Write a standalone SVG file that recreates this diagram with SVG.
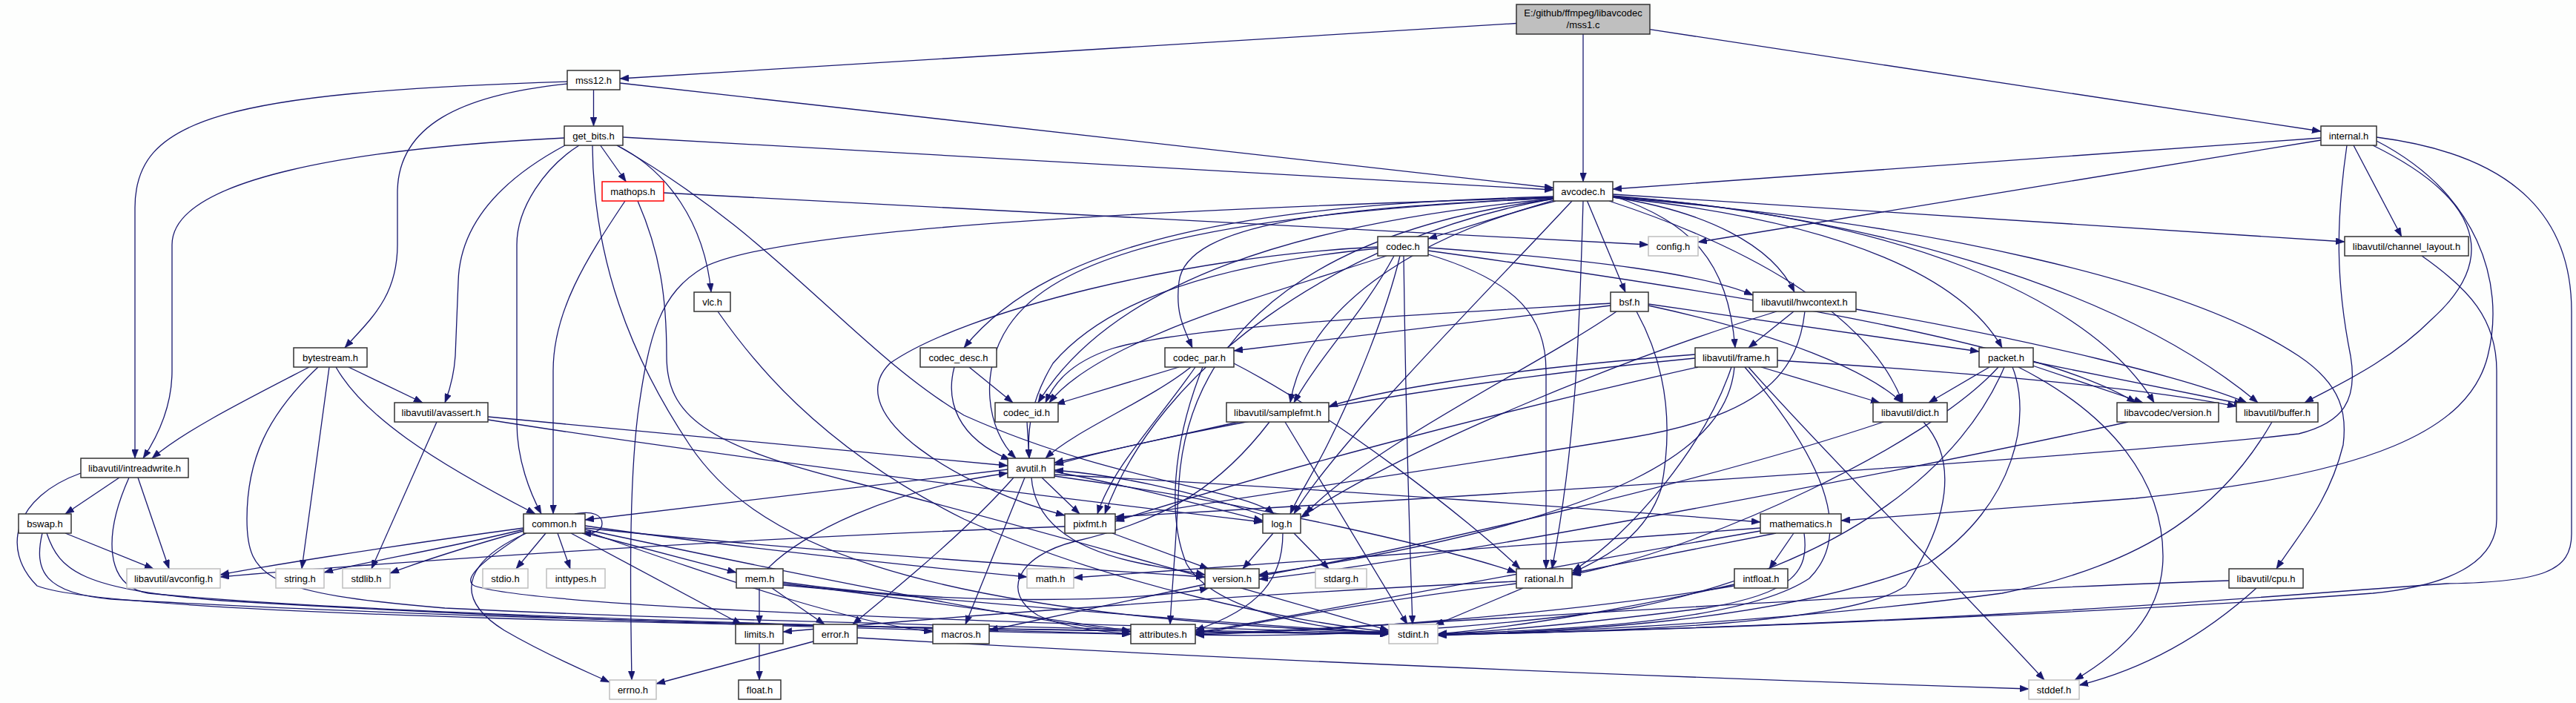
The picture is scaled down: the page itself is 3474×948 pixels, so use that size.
<svg xmlns="http://www.w3.org/2000/svg" width="3474" height="948" viewBox="0 0 3474 948">
<defs>
<marker id="ah" viewBox="0 0 12 9" refX="12" refY="4.5" markerWidth="12" markerHeight="9" markerUnits="userSpaceOnUse" orient="auto"><path d="M0,0 L12,4.5 L0,9 z" fill="#191970" stroke="#191970" stroke-width="0.5"/></marker>
<style>
.e path{fill:none;stroke:#191970;stroke-width:1.3;marker-end:url(#ah)}
.n rect{fill:#ffffff;stroke:#333333;stroke-width:1.5}
.x rect{fill:#ffffff;stroke:#bfbfbf;stroke-width:1.5}
.r rect{fill:#ffffff;stroke:#ff0000;stroke-width:1.5}
.root rect{fill:#bfbfbf;stroke:#333333;stroke-width:1.5}
text{font-family:"Liberation Sans",Arial,sans-serif;font-size:13px;text-anchor:middle;fill:#000000}
</style>
</defs>
<rect x="0" y="0" width="3474" height="948" fill="#fdfefd"/>
<g id="edges" class="e">
<path d="M2045,31.5 L836,106"/>
<path d="M2135,46 L2135,245"/>
<path d="M2225,39.7 L3130,177"/>
<path d="M800.5,121 L800.5,170"/>
<path d="M836,112 L2095,253.5"/>
<path d="M765,110 C300,125 182,160 182,280 L182,618"/>
<path d="M765,113 C620,128 536,170 536,260 L536,330 C536,400 500,430 465,469"/>
<path d="M761,186 C480,200 232,240 232,330 L232,500 C232,545 215,585 193,618"/>
<path d="M840,185 L2095,256"/>
<path d="M809.7,196 L844.3,245"/>
<path d="M832,196 C900,230 950,300 959,394"/>
<path d="M781,196 C735,225 697,280 697,330 L697,570 C697,620 715,665 730,693"/>
<path d="M762,196 C680,240 620,300 618,380 L614,480 C612,510 605,530 600,543"/>
<path d="M799,196 C800,350 850,480 930,600 C1010,720 1200,830 1873,853"/>
<path d="M832,196 C1050,320 1150,470 1300,560 C1500,650 1680,660 1718,693"/>
<path d="M3130,186 L2175,255"/>
<path d="M3130,189 L2290,326.5"/>
<path d="M3174,196 L3238.7,319"/>
<path d="M3165,196 C3150,300 3150,380 3170,480 C3180,540 3160,570 3100,585 C2800,620 1800,680 1504,697"/>
<path d="M3200,196 C3330,260 3380,340 3280,430 C3220,490 3150,520 3108,543"/>
<path d="M3205,190 C3340,260 3380,380 3355,480 C3330,580 3200,640 2880,672 L2483,702"/>
<path d="M3205,185 C3400,210 3468,300 3468,420 L3468,720 C3468,770 3430,785 3300,787 C3100,800 2700,840 1939,856"/>
<path d="M2095,270 L1926,322"/>
<path d="M2140.5,271 L2192,394"/>
<path d="M2095,266 C1500,285 1050,310 950,360 C890,395 875,450 860,560 C848,660 850,800 852,917"/>
<path d="M2098,271 C1900,320 1760,420 1740,543"/>
<path d="M2097,268 C1700,320 1600,500 1590,650 C1585,750 1580,800 1578,842"/>
<path d="M2095,267 C1600,290 1420,350 1360,440 C1320,500 1330,580 1370,618"/>
<path d="M2175,264 C2500,290 2850,380 3045,543"/>
<path d="M2175,266 C2600,300 2950,380 3100,480 C3160,520 3165,560 3160,600 C3140,680 3100,720 3070,767"/>
<path d="M2175,262 L3162,326"/>
<path d="M2170,271 C2350,330 2520,420 2566,543"/>
<path d="M2175,264 C2280,300 2330,350 2340,469"/>
<path d="M2175,266 C2300,285 2390,330 2420,394"/>
<path d="M2120,271 C2000,400 1800,600 1745,693"/>
<path d="M2095,268 C1800,320 1560,500 1490,693"/>
<path d="M2135,271 C2130,450 2125,600 2093,767"/>
<path d="M2095,265 C1700,275 1420,320 1300,469"/>
<path d="M2095,267 C1800,280 1600,300 1590,380 C1585,420 1595,440 1608,469"/>
<path d="M2095,268 C1750,300 1500,380 1400,543"/>
<path d="M2175,266 C2500,300 2650,380 2700,469"/>
<path d="M2175,265 C2550,290 2820,400 2905,543"/>
<path d="M895,260 L2223,330"/>
<path d="M843,271 C790,350 746,420 746,500 L746,693"/>
<path d="M860,271 C890,340 899,400 899,480 C899,560 950,600 1150,650 C1500,740 1800,830 1873,850"/>
<path d="M968,420 C1010,480 1100,600 1300,700 C1500,790 1750,840 1873,852"/>
<path d="M1893,345 C1895,500 1900,700 1905,842"/>
<path d="M1926,334 C2150,350 2300,370 2364,398"/>
<path d="M1926,338 C2300,390 2750,460 2880,543"/>
<path d="M1888,345 C1870,420 1830,520 1790,600 C1770,640 1750,670 1740,693"/>
<path d="M1858,333 C1600,345 1300,420 1200,490 C1130,560 1300,660 1436,695"/>
<path d="M1858,335 C1600,360 1480,420 1420,490 C1390,540 1385,580 1388,618"/>
<path d="M1926,343 C2050,380 2085,430 2085,500 L2085,767"/>
<path d="M1880,345 C1840,420 1780,480 1745,543"/>
<path d="M1870,345 C1700,400 1480,460 1415,543"/>
<path d="M2172,412 L1664,473"/>
<path d="M2172,409 C1900,425 1600,440 1500,470 C1440,490 1420,520 1410,543"/>
<path d="M2223,412 C2400,450 2520,500 2565,543"/>
<path d="M2223,410 L2669,474"/>
<path d="M2180,420 C2080,490 1850,600 1760,693"/>
<path d="M2207,420 C2240,480 2260,560 2240,660 C2220,720 2170,750 2121,772"/>
<path d="M2419,420 L2358,469"/>
<path d="M2503,417 C2750,460 2950,510 3030,543"/>
<path d="M2396,420 C2200,480 1900,600 1754,698"/>
<path d="M2434,420 C2425,500 2380,560 2200,590 C1900,640 1600,680 1504,700"/>
<path d="M417,495 C330,540 250,580 205,618"/>
<path d="M444,495 L407,767"/>
<path d="M470,495 L570,543"/>
<path d="M453,495 C490,560 580,620 722,693"/>
<path d="M429,495 C360,560 333,620 333,700 C333,780 360,800 600,820 C1000,840 1600,850 1873,855"/>
<path d="M1307,495 L1366,543"/>
<path d="M1287,495 C1275,540 1290,590 1362,620"/>
<path d="M1590,495 L1424,545"/>
<path d="M1606,495 C1550,540 1450,580 1410,618"/>
<path d="M1612,495 C1560,570 1500,630 1480,693"/>
<path d="M1622,495 C1580,600 1575,700 1600,760 C1640,830 1800,850 1873,854"/>
<path d="M1664,490 C1800,560 1980,700 2050,767"/>
<path d="M2375,495 L2535,543"/>
<path d="M2397,486 C2700,505 2900,525 3016,548"/>
<path d="M2358,495 C2450,600 2650,800 2757,917"/>
<path d="M2335,495 C2300,600 2200,720 2121,770"/>
<path d="M2353,495 C2460,620 2500,720 2440,780 C2350,840 2100,850 1939,855"/>
<path d="M2286,483 C1900,520 1550,590 1422,627"/>
<path d="M2286,478 C2000,500 1850,530 1792,548"/>
<path d="M2290,495 C2000,560 1700,640 1504,703"/>
<path d="M2339,495 C2330,600 2200,700 1698,775"/>
<path d="M2683,495 L2601,543"/>
<path d="M2741,493 L2890,543"/>
<path d="M2742,488 L3025,545"/>
<path d="M2722,495 C2850,560 2917,650 2917,750 C2917,830 2860,880 2798,917"/>
<path d="M2703,495 C2650,620 2500,760 2200,820 C1900,860 1700,858 1612,856"/>
<path d="M2695,495 C2600,600 2300,740 2120,775"/>
<path d="M2714,495 C2740,560 2720,680 2600,760 C2400,840 2100,852 1939,856"/>
<path d="M589,569 L501,767"/>
<path d="M658,562 L1359,628"/>
<path d="M658,566 C1000,620 1500,680 1703,704"/>
<path d="M1385,569 L1388,618"/>
<path d="M1670,569 L1422,624"/>
<path d="M1733,569 L1898,842"/>
<path d="M1712,569 C1650,650 1580,700 1450,730 C1370,750 1350,800 1400,830 C1440,848 1490,852 1525,855"/>
<path d="M2540,569 C2300,650 1900,740 1698,777"/>
<path d="M2594,569 C2640,620 2630,700 2570,790 C2500,840 2200,852 1939,856"/>
<path d="M2870,569 C2500,650 1900,760 1698,781"/>
<path d="M3064,569 C3000,680 2900,760 2700,800 C2400,840 2100,852 1939,857"/>
<path d="M161,644 L88,693"/>
<path d="M186,644 L228,767"/>
<path d="M174,644 C140,720 140,790 200,800 C500,830 1300,848 1525,855"/>
<path d="M109,638 C20,670 0,740 50,790 C150,830 1000,845 1873,855"/>
<path d="M88,719 L207,767"/>
<path d="M57,719 C45,770 60,800 150,808 C700,840 1500,852 1873,855"/>
<path d="M63,719 C80,770 110,795 300,810 C800,840 1300,852 1525,855"/>
<path d="M1405,644 L1456,693"/>
<path d="M1382,644 L1302,842"/>
<path d="M1391,644 C1395,700 1440,740 1540,760 C1580,768 1610,772 1625,775"/>
<path d="M1359,633 L789,701"/>
<path d="M1367,644 C1300,720 1200,800 1150,842"/>
<path d="M1422,636 C1550,660 1650,690 1703,702"/>
<path d="M1422,640 C1800,660 2200,690 2374,704"/>
<path d="M1422,642 C1700,680 1950,740 2045,772"/>
<path d="M736,719 L696,767"/>
<path d="M752,719 L769,767"/>
<path d="M787,718 L993,772"/>
<path d="M770,719 L1000,842"/>
<path d="M710,719 C640,750 600,800 680,850 C740,885 790,905 822,920"/>
<path d="M706,712 C500,740 350,765 297,775"/>
<path d="M706,714 C600,740 480,760 437,772"/>
<path d="M706,716 C620,740 560,760 526,773"/>
<path d="M708,719 C660,750 620,780 640,790 C700,810 1000,830 1873,854"/>
<path d="M789,709 C1000,740 1300,770 1385,778"/>
<path d="M789,712 C1100,745 1500,770 1625,778"/>
<path d="M789,714 C1100,780 1400,840 1525,852"/>
<path d="M789,716 C1000,790 1150,840 1258,852"/>
<path d="M775,693 C800,688 812,695 812,706 C812,716 800,720 785,719"/>
<path d="M1024,793 L1024,842"/>
<path d="M1041,793 L1112,842"/>
<path d="M1035,767 C1080,720 1200,660 1359,638"/>
<path d="M1056,787 C1250,810 1450,840 1525,851"/>
<path d="M1056,789 C1400,820 1700,845 1873,853"/>
<path d="M1056,785 C1300,820 1550,810 1630,793"/>
<path d="M1500,719 L1630,767"/>
<path d="M1436,710 C1000,725 500,760 297,778"/>
<path d="M1745,719 L1792,767"/>
<path d="M1717,719 L1676,767"/>
<path d="M1730,719 C1730,780 1700,820 1612,850"/>
<path d="M1705,695 C1600,660 1500,640 1422,634"/>
<path d="M2419,719 L2386,767"/>
<path d="M2374,712 C2000,740 1600,770 1448,779"/>
<path d="M2395,719 L2120,773"/>
<path d="M2374,716 C2000,780 1700,840 1612,853"/>
<path d="M2433,719 C2440,770 2420,800 2300,820 C2100,845 2000,852 1939,855"/>
<path d="M1625,788 C1500,815 1400,835 1334,850"/>
<path d="M2054,793 L1935,843"/>
<path d="M2045,784 C1700,800 1300,830 1056,852"/>
<path d="M2045,787 C1850,810 1700,840 1612,855"/>
<path d="M2339,788 C2200,820 2050,845 1939,855"/>
<path d="M2339,790 C2100,830 1800,850 1612,856"/>
<path d="M3043,793 C2980,850 2900,900 2804,924"/>
<path d="M3006,783 C2500,800 1900,845 1612,855"/>
<path d="M3266,345 C3330,390 3367,430 3367,500 L3367,700 C3367,760 3300,790 3200,800 C2800,830 2200,852 1939,856"/>
<path d="M1024,868 L1024,917"/>
<path d="M1097,865 L885,922"/>
<path d="M1156,860 C1500,880 2000,905 2736,929"/>
</g>
<g id="node-mss1c" class="root"><rect x="2045" y="6" width="180" height="40"/><text x="2135" y="22">E:/github/ffmpeg/libavcodec</text><text x="2135" y="38">/mss1.c</text></g>
<g id="node-mss12" class="n"><rect x="765" y="95" width="71" height="26"/><text x="800.5" y="112.5">mss12.h</text></g>
<g id="node-getbits" class="n"><rect x="761" y="170" width="79" height="26"/><text x="800.5" y="187.5">get_bits.h</text></g>
<g id="node-internal" class="n"><rect x="3130" y="170" width="75" height="26"/><text x="3167.5" y="187.5">internal.h</text></g>
<g id="node-mathops" class="r"><rect x="812" y="245" width="83" height="26"/><text x="853.5" y="262.5">mathops.h</text></g>
<g id="node-avcodec" class="n"><rect x="2095" y="245" width="80" height="26"/><text x="2135" y="262.5">avcodec.h</text></g>
<g id="node-codec" class="n"><rect x="1858" y="319" width="68" height="26"/><text x="1892" y="336.5">codec.h</text></g>
<g id="node-config" class="x"><rect x="2223" y="319" width="67" height="26"/><text x="2256.5" y="336.5">config.h</text></g>
<g id="node-chlayout" class="n"><rect x="3162" y="319" width="167" height="26"/><text x="3245.5" y="336.5">libavutil/channel_layout.h</text></g>
<g id="node-vlc" class="n"><rect x="936" y="394" width="49" height="26"/><text x="960.5" y="411.5">vlc.h</text></g>
<g id="node-bsf" class="n"><rect x="2172" y="394" width="51" height="26"/><text x="2197.5" y="411.5">bsf.h</text></g>
<g id="node-hwcontext" class="n"><rect x="2364" y="394" width="139" height="26"/><text x="2433.5" y="411.5">libavutil/hwcontext.h</text></g>
<g id="node-bytestream" class="n"><rect x="396" y="469" width="99" height="26"/><text x="445.5" y="486.5">bytestream.h</text></g>
<g id="node-codecdesc" class="n"><rect x="1241" y="469" width="103" height="26"/><text x="1292.5" y="486.5">codec_desc.h</text></g>
<g id="node-codecpar" class="n"><rect x="1571" y="469" width="93" height="26"/><text x="1617.5" y="486.5">codec_par.h</text></g>
<g id="node-frame" class="n"><rect x="2286" y="469" width="111" height="26"/><text x="2341.5" y="486.5">libavutil/frame.h</text></g>
<g id="node-packet" class="n"><rect x="2669" y="469" width="73" height="26"/><text x="2705.5" y="486.5">packet.h</text></g>
<g id="node-avassert" class="n"><rect x="532" y="543" width="126" height="26"/><text x="595" y="560.5">libavutil/avassert.h</text></g>
<g id="node-codecid" class="n"><rect x="1342" y="543" width="85" height="26"/><text x="1384.5" y="560.5">codec_id.h</text></g>
<g id="node-samplefmt" class="n"><rect x="1654" y="543" width="138" height="26"/><text x="1723" y="560.5">libavutil/samplefmt.h</text></g>
<g id="node-dict" class="n"><rect x="2526" y="543" width="100" height="26"/><text x="2576" y="560.5">libavutil/dict.h</text></g>
<g id="node-lcversion" class="n"><rect x="2855" y="543" width="137" height="26"/><text x="2923.5" y="560.5">libavcodec/version.h</text></g>
<g id="node-buffer" class="n"><rect x="3016" y="543" width="110" height="26"/><text x="3071" y="560.5">libavutil/buffer.h</text></g>
<g id="node-intreadwrite" class="n"><rect x="109" y="618" width="145" height="26"/><text x="181.5" y="635.5">libavutil/intreadwrite.h</text></g>
<g id="node-avutil" class="n"><rect x="1359" y="618" width="63" height="26"/><text x="1390.5" y="635.5">avutil.h</text></g>
<g id="node-bswap" class="n"><rect x="25" y="693" width="71" height="26"/><text x="60.5" y="710.5">bswap.h</text></g>
<g id="node-common" class="n"><rect x="706" y="693" width="83" height="26"/><text x="747.5" y="710.5">common.h</text></g>
<g id="node-pixfmt" class="n"><rect x="1436" y="693" width="68" height="26"/><text x="1470" y="710.5">pixfmt.h</text></g>
<g id="node-log" class="n"><rect x="1703" y="693" width="51" height="26"/><text x="1728.5" y="710.5">log.h</text></g>
<g id="node-mathematics" class="n"><rect x="2374" y="693" width="109" height="26"/><text x="2428.5" y="710.5">mathematics.h</text></g>
<g id="node-avconfig" class="x"><rect x="171" y="767" width="126" height="26"/><text x="234" y="784.5">libavutil/avconfig.h</text></g>
<g id="node-string" class="x"><rect x="372" y="767" width="65" height="26"/><text x="404.5" y="784.5">string.h</text></g>
<g id="node-stdlib" class="x"><rect x="462" y="767" width="64" height="26"/><text x="494" y="784.5">stdlib.h</text></g>
<g id="node-stdio" class="x"><rect x="651" y="767" width="61" height="26"/><text x="681.5" y="784.5">stdio.h</text></g>
<g id="node-inttypes" class="x"><rect x="737" y="767" width="79" height="26"/><text x="776.5" y="784.5">inttypes.h</text></g>
<g id="node-mem" class="n"><rect x="993" y="767" width="63" height="26"/><text x="1024.5" y="784.5">mem.h</text></g>
<g id="node-math" class="x"><rect x="1385" y="767" width="63" height="26"/><text x="1416.5" y="784.5">math.h</text></g>
<g id="node-version" class="n"><rect x="1625" y="767" width="73" height="26"/><text x="1661.5" y="784.5">version.h</text></g>
<g id="node-stdarg" class="x"><rect x="1774" y="767" width="69" height="26"/><text x="1808.5" y="784.5">stdarg.h</text></g>
<g id="node-rational" class="n"><rect x="2045" y="767" width="75" height="26"/><text x="2082.5" y="784.5">rational.h</text></g>
<g id="node-intfloat" class="n"><rect x="2339" y="767" width="72" height="26"/><text x="2375" y="784.5">intfloat.h</text></g>
<g id="node-cpu" class="n"><rect x="3006" y="767" width="100" height="26"/><text x="3056" y="784.5">libavutil/cpu.h</text></g>
<g id="node-limits" class="n"><rect x="992" y="842" width="64" height="26"/><text x="1024" y="859.5">limits.h</text></g>
<g id="node-error" class="n"><rect x="1097" y="842" width="59" height="26"/><text x="1126.5" y="859.5">error.h</text></g>
<g id="node-macros" class="n"><rect x="1258" y="842" width="76" height="26"/><text x="1296" y="859.5">macros.h</text></g>
<g id="node-attributes" class="n"><rect x="1525" y="842" width="87" height="26"/><text x="1568.5" y="859.5">attributes.h</text></g>
<g id="node-stdint" class="x"><rect x="1873" y="842" width="66" height="26"/><text x="1906" y="859.5">stdint.h</text></g>
<g id="node-errno" class="x"><rect x="822" y="917" width="63" height="26"/><text x="853.5" y="934.5">errno.h</text></g>
<g id="node-float" class="n"><rect x="996" y="917" width="57" height="26"/><text x="1024.5" y="934.5">float.h</text></g>
<g id="node-stddef" class="x"><rect x="2736" y="917" width="68" height="26"/><text x="2770" y="934.5">stddef.h</text></g>
</svg>
